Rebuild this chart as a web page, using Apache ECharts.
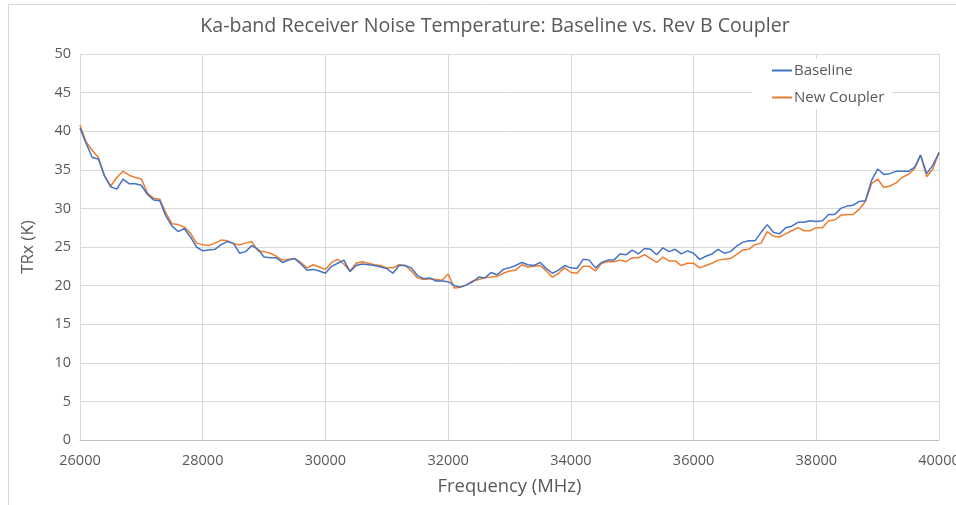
<!DOCTYPE html>
<html>
<head>
<meta charset="utf-8">
<script src="https://cdn.jsdelivr.net/npm/echarts@6/dist/echarts.min.js"></script>
<style>html,body{margin:0;padding:0;background:#fff;overflow:hidden;}#c{width:956px;height:505px;}</style>
</head>
<body>
<div id="c"></div>
<script>
const FREQ_START = 26000;
const FREQ_STEP = 100;
const xTicks = [26000, 28000, 30000, 32000, 34000, 36000, 38000, 40000];
const baseline = [
40.4,38.4,36.6,36.4,34.2,32.8,32.5,33.8,33.2,33.2,
33.0,31.8,31.1,31.0,29.0,27.7,27.0,27.4,26.3,25.0,
24.5,24.6,24.7,25.3,25.7,25.5,24.2,24.4,25.2,24.7,
23.7,23.6,23.6,23.0,23.3,23.5,22.8,22.0,22.1,21.9,
21.6,22.5,22.9,23.3,21.8,22.6,22.8,22.7,22.6,22.4,
22.2,21.6,22.6,22.6,22.3,21.3,20.9,21.0,20.6,20.6,
20.5,20.0,19.8,20.1,20.5,21.1,21.0,21.7,21.4,22.1,
22.3,22.6,23.0,22.7,22.6,23.0,22.2,21.6,22.0,22.6,
22.3,22.2,23.4,23.3,22.3,23.0,23.3,23.3,24.1,24.0,
24.6,24.1,24.8,24.7,24.0,24.9,24.4,24.7,24.1,24.5,
24.2,23.4,23.8,24.1,24.7,24.2,24.4,25.1,25.6,25.8,
25.8,26.9,27.9,26.9,26.7,27.5,27.7,28.2,28.2,28.4,
28.3,28.4,29.2,29.2,30.0,30.3,30.4,30.9,31.0,33.6,
35.1,34.4,34.5,34.8,34.8,34.8,35.3,36.9,34.5,35.6,
37.2];
const newCoupler = [
40.8,38.6,37.5,36.6,34.2,32.9,34.0,34.8,34.3,34.0,
33.8,32.0,31.3,31.2,29.4,28.0,27.9,27.6,26.8,25.5,
25.3,25.2,25.5,25.9,25.8,25.4,25.3,25.5,25.7,24.5,
24.4,24.2,23.8,23.3,23.4,23.5,23.0,22.3,22.7,22.4,
22.1,23.0,23.4,22.8,21.9,22.9,23.1,22.9,22.7,22.6,
22.3,22.3,22.7,22.6,21.9,21.0,20.8,20.9,20.8,20.7,
21.5,19.7,19.8,20.1,20.6,20.8,21.0,21.1,21.2,21.6,
21.9,22.0,22.7,22.4,22.5,22.6,21.9,21.1,21.6,22.3,
21.7,21.6,22.5,22.5,21.9,22.9,23.1,23.1,23.3,23.1,
23.6,23.6,24.0,23.5,23.0,23.7,23.2,23.2,22.6,22.9,
22.9,22.3,22.6,22.9,23.3,23.4,23.5,24.0,24.6,24.7,
25.3,25.5,27.0,26.4,26.3,26.7,27.1,27.5,27.1,27.1,
27.5,27.5,28.4,28.5,29.1,29.2,29.2,29.9,30.9,33.2,
33.8,32.7,32.9,33.3,34.0,34.4,35.1,36.9,34.1,35.1,
37.3];
const freqs = baseline.map((_, i) => FREQ_START + i * FREQ_STEP);
const pair = arr => arr.map((v, i) => [freqs[i], v]);

const chart = echarts.init(document.getElementById('c'), null, {renderer: 'canvas'});
const FONT = '"Open Sans", "Noto Sans", sans-serif';
chart.setOption({
  animation: false,
  backgroundColor: '#fff',
  textStyle: {fontFamily: FONT},
  title: {
    text: 'Ka-band Receiver Noise Temperature: Baseline vs. Rev B Coupler',
    left: 490, top: 11, textAlign: 'center',
    textStyle: {fontFamily: FONT, fontSize: 19.6, fontWeight: 'normal', color: '#595959'}
  },
  graphic: [{
    type: 'rect', silent: true, z: -1,
    shape: {x: 8.5, y: 4.5, width: 1200, height: 800},
    style: {fill: null, stroke: '#d9d9d9', lineWidth: 1}
  }],
  legend: {
    orient: 'vertical', left: 752, top: 59,
    backgroundColor: '#fff', padding: [4, 8, 4, 20],
    itemWidth: 20, itemHeight: 2, itemGap: 12,
    icon: 'rect',
    textStyle: {fontFamily: FONT, fontSize: 15, color: '#595959', padding: [0, 0, 0, -3]},
    data: ['Baseline', 'New Coupler']
  },
  grid: {left: 80, right: 17, top: 54, bottom: 65, containLabel: false, outerBoundsMode: 'none'},
  xAxis: {
    type: 'value', min: 26000, max: 40000, interval: 2000,
    name: 'Frequency (MHz)', nameLocation: 'middle', nameGap: 38,
    nameTextStyle: {fontFamily: FONT, fontSize: 18.4, color: '#595959'},
    axisLine: {show: true, lineStyle: {color: '#bfbfbf'}},
    axisTick: {show: false},
    axisLabel: {fontFamily: FONT, fontSize: 14.5, color: '#595959', margin: 13,
      formatter: v => xTicks.includes(v) ? String(v) : ''},
    splitLine: {show: true, lineStyle: {color: '#d9d9d9'}}
  },
  yAxis: {
    type: 'value', min: 0, max: 50, interval: 5,
    name: 'TRx (K)', nameLocation: 'middle', nameGap: 43, nameRotate: 90,
    nameTextStyle: {fontFamily: FONT, fontSize: 17, color: '#595959'},
    axisLine: {show: false},
    axisTick: {show: false},
    axisLabel: {fontFamily: FONT, fontSize: 14.5, color: '#595959', margin: 9},
    splitLine: {show: true, lineStyle: {color: '#d9d9d9'}}
  },
  series: [
    {name: 'Baseline', type: 'line', data: pair(baseline), showSymbol: false, symbol: 'none',
     lineStyle: {color: '#4472C4', width: 1.5}, itemStyle: {color: '#4472C4'}, z: 3},
    {name: 'New Coupler', type: 'line', data: pair(newCoupler), showSymbol: false, symbol: 'none',
     lineStyle: {color: '#ED7D31', width: 1.5}, itemStyle: {color: '#ED7D31'}, z: 2}
  ]
});
</script>
</body>
</html>
